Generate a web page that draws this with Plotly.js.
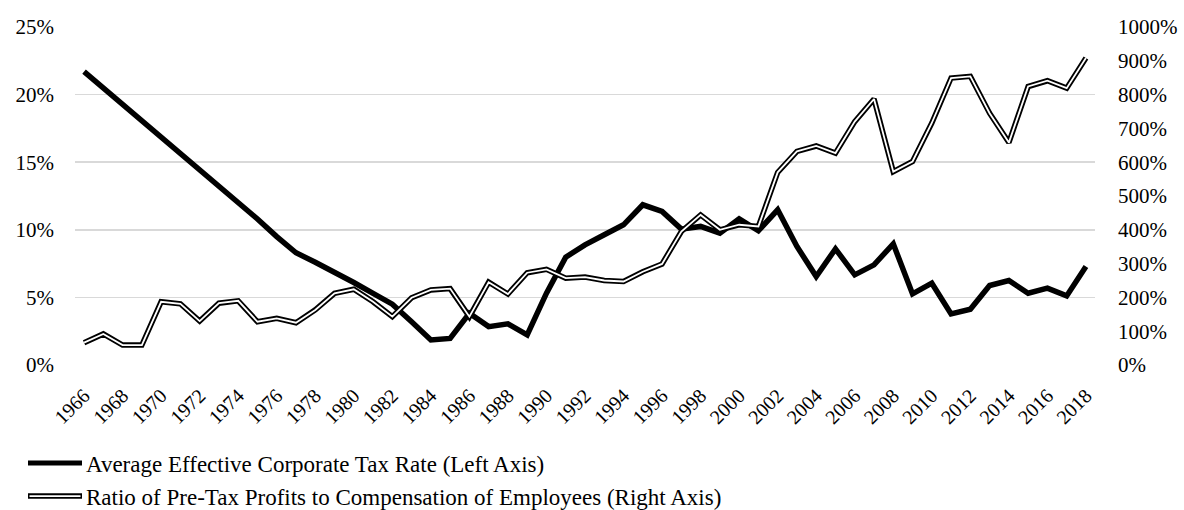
<!DOCTYPE html>
<html>
<head>
<meta charset="utf-8">
<script src="https://cdn.plot.ly/plotly-3.0.1.min.js"></script>
<style>html,body{margin:0;padding:0;background:#fff;}#chart{width:1184px;height:510px;}</style>
</head>
<body>
<div id="chart"></div>
<script>
const years = [];
for (let y = 1966; y <= 2018; y++) years.push(y);

const taxRate = [21.7, 20.5, 19.3, 18.1, 16.8, 15.6, 14.4, 13.2, 12.0, 10.8, 9.5, 8.3,
  7.6, 6.9, 6.1, 5.3, 4.5, 3.2, 1.85, 1.97, 3.83, 2.84, 3.04, 2.22, 5.31, 7.98,
  8.89, 9.63, 10.37, 11.85, 11.36, 10.05, 10.25, 9.75, 10.81, 9.93, 11.48, 8.77,
  6.54, 8.59, 6.67, 7.41, 8.96, 5.26, 6.05, 3.78, 4.12, 5.88, 6.25, 5.31, 5.68, 5.11, 7.28];

const profitRatio = [66, 92, 59, 59, 187, 181, 130, 183, 190, 128, 138, 125,
  163, 212, 224, 187, 143, 199, 222, 226, 143, 245, 210, 273, 283, 257,
  260, 250, 247, 276, 299, 395, 444, 400, 415, 410, 570, 632,
  648, 627, 720, 787, 572, 602, 716, 849, 854, 745, 658, 824, 841, 819, 908];

const leftTicks = [0, 5, 10, 15, 20, 25];
const rightTicks = [0, 100, 200, 300, 400, 500, 600, 700, 800, 900, 1000];
const legendNames = ["Average Effective Corporate Tax Rate (Left Axis)",
  "Ratio of Pre-Tax Profits to Compensation of Employees (Right Axis)"];

const FONT = "Liberation Serif, Times New Roman, serif";

const traces = [
  {x: years, y: profitRatio, yaxis: "y2", mode: "lines", showlegend: false, hoverinfo: "skip",
   line: {color: "#000", width: 5.5}},
  {x: years, y: profitRatio, yaxis: "y2", mode: "lines", showlegend: false,
   line: {color: "#fff", width: 1.8}},
  {x: years, y: taxRate, yaxis: "y", mode: "lines", showlegend: false,
   line: {color: "#000", width: 5.5}}
];

// legend drawn in paper coordinates
const L = 75, R = 1095, T = 27.3, B = 365;
const px = v => (v - L) / (R - L);
const py = v => (B - v) / (B - T);
const shapes = [
  {type: "line", xref: "paper", yref: "paper", x0: px(28), x1: px(82), y0: py(463), y1: py(463), line: {color: "#000", width: 5}},
  {type: "line", xref: "paper", yref: "paper", x0: px(28), x1: px(82), y0: py(496), y1: py(496), line: {color: "#000", width: 5.5}},
  {type: "line", xref: "paper", yref: "paper", x0: px(29.5), x1: px(80.5), y0: py(496), y1: py(496), line: {color: "#fff", width: 1.8}}
];
const annotations = [
  {xref: "paper", yref: "paper", x: px(84), y: py(464), xanchor: "left", yanchor: "middle", showarrow: false,
   text: legendNames[0], font: {family: FONT, size: 23, color: "#000"}},
  {xref: "paper", yref: "paper", x: px(84), y: py(497), xanchor: "left", yanchor: "middle", showarrow: false,
   text: legendNames[1], font: {family: FONT, size: 23, color: "#000"}}
];

const layout = {
  width: 1184, height: 510,
  margin: {l: L, r: 1184 - R, t: T, b: 510 - B},
  paper_bgcolor: "#fff", plot_bgcolor: "#fff",
  showlegend: false,
  font: {family: FONT, size: 20, color: "#000"},
  xaxis: {
    range: [1965.53, 2018.47], tickmode: "linear", tick0: 1966, dtick: 2,
    tickangle: -45, showgrid: false, zeroline: false, showline: false, ticks: "",
    tickfont: {family: FONT, size: 20, color: "#000"}, ticklabelstandoff: 14
  },
  yaxis: {
    range: [0, 25], tickvals: leftTicks, ticktext: leftTicks.map(v => v + "%"),
    showgrid: true, gridcolor: "#d9d9d9", gridwidth: 1.5, zeroline: false, showline: false, ticks: "",
    tickfont: {family: FONT, size: 21, color: "#000"}, ticklabelstandoff: 20
  },
  yaxis2: {
    range: [0, 1000], overlaying: "y", side: "right", tickvals: rightTicks, ticktext: rightTicks.map(v => v + "%"),
    showgrid: false, zeroline: false, showline: false, ticks: "",
    tickfont: {family: FONT, size: 21, color: "#000"}, ticklabelstandoff: 22
  },
  shapes: shapes,
  annotations: annotations
};

Plotly.newPlot("chart", traces, layout, {displayModeBar: false, staticPlot: true});
</script>
</body>
</html>
